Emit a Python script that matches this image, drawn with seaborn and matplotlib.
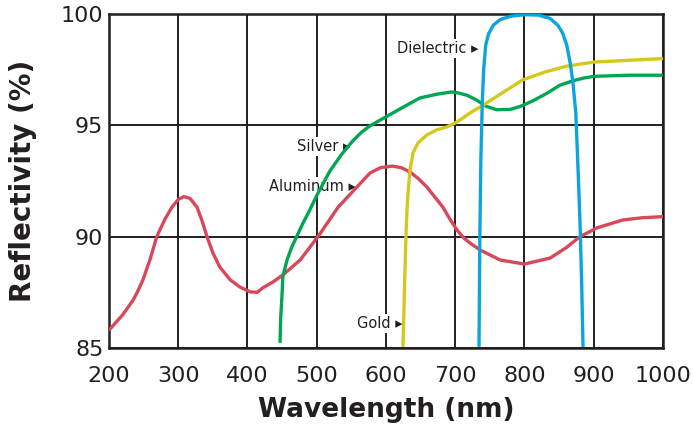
import matplotlib.pyplot as plt
import pandas as pd
import seaborn as sns

# values (wavelength nm, reflectivity %)
aluminum_x = [200, 220, 235, 242, 249, 259, 269, 281, 291, 300, 308, 317, 327, 334,
              341.5, 350, 360, 375, 389, 404, 414, 422, 437, 451, 476, 504, 531, 558,
              577, 592, 609, 622, 635, 647, 659, 670, 682, 692, 702.5, 712, 722, 736,
              765, 800, 837, 860, 880, 905, 942, 970, 1000]
aluminum_y = [85.8, 86.5, 87.16, 87.58, 88.06, 88.95, 90.0, 90.8, 91.33, 91.67, 91.8,
              91.72, 91.33, 90.75, 90.0, 89.27, 88.64, 88.06, 87.74, 87.52, 87.5, 87.7,
              87.97, 88.28, 88.95, 90.1, 91.33, 92.23, 92.86, 93.1, 93.17, 93.1, 92.9,
              92.6, 92.23, 91.8, 91.33, 90.8, 90.3, 89.95, 89.7, 89.4, 88.95, 88.77,
              89.04, 89.5, 90.0, 90.4, 90.75, 90.85, 90.9]

silver_x = [447, 448, 450, 451, 457, 464, 471, 480, 490, 500, 519, 536, 552, 565, 577,
            601, 625, 649, 673.6, 695, 705, 717, 730, 745, 760, 780, 794, 812, 833,
            851, 870, 885, 900, 950, 1000]
silver_y = [85.23, 86.4, 87.47, 88.19, 88.95, 89.54, 90.0, 90.6, 91.2, 91.85, 92.95,
            93.7, 94.3, 94.7, 94.98, 95.4, 95.82, 96.23, 96.4, 96.5, 96.45, 96.35,
            96.15, 95.85, 95.7, 95.72, 95.85, 96.1, 96.45, 96.8, 97.0, 97.12, 97.2,
            97.25, 97.25]

gold_x = [624.5, 626, 627.5, 629, 630.5, 631.8, 634.7, 639, 646, 659, 673.6, 688,
          699.6, 711, 721, 740, 770, 798, 830, 860, 880, 900, 950, 1000]
gold_y = [85.05, 86.8, 88.6, 90.2, 91.3, 91.96, 93.0, 93.76, 94.2, 94.57, 94.8, 94.93,
          95.1, 95.33, 95.55, 95.9, 96.5, 97.05, 97.4, 97.65, 97.75, 97.84, 97.92, 98.0]

dielectric_x = [734.3, 735.5, 737, 739, 741, 744, 748, 755, 765, 780, 800, 820, 837,
                848, 855, 861, 866, 870, 874, 877, 880, 882.5, 884.5]
dielectric_y = [85.05, 90.0, 93.5, 96.0, 97.5, 98.6, 99.1, 99.5, 99.75, 99.9, 99.97,
                99.95, 99.8, 99.5, 99.15, 98.6, 97.8, 96.9, 95.6, 93.3, 90.8, 88.0, 85.05]

x_ticks = [200, 300, 400, 500, 600, 700, 800, 900, 1000]
y_ticks = [85, 90, 95, 100]

colors = {
    "Aluminum": "#d8475a",
    "Silver": "#00a651",
    "Gold": "#d5c81c",
    "Dielectric": "#0ba4de",
}

frames = []
for name, xs, ys in [
    ("Aluminum", aluminum_x, aluminum_y),
    ("Silver", silver_x, silver_y),
    ("Gold", gold_x, gold_y),
    ("Dielectric", dielectric_x, dielectric_y),
]:
    frames.append(pd.DataFrame({"wavelength": xs, "reflectivity": ys, "coating": name}))
data = pd.concat(frames, ignore_index=True)

sns.set_style("white")
plt.rcParams["font.family"] = ["DejaVu Sans"]

fig = plt.figure(figsize=(6.93, 4.38), dpi=100)
ax = fig.add_axes([109 / 693, 1 - 348 / 438, 554 / 693, 334 / 438])

sns.lineplot(
    data=data,
    x="wavelength",
    y="reflectivity",
    hue="coating",
    palette=colors,
    estimator=None,
    sort=False,
    linewidth=2.4,
    legend=False,
    ax=ax,
    zorder=3,
)
for line in ax.lines:
    line.set_solid_joinstyle("round")
    line.set_solid_capstyle("butt")

ax.set_xlim(200, 1000)
ax.set_ylim(85, 100)
ax.set_xticks(x_ticks)
ax.set_yticks(y_ticks)
ax.grid(True, color="#231f20", linewidth=1.4, zorder=0)
ax.set_axisbelow(True)
for s in ax.spines.values():
    s.set_color("#231f20")
    s.set_linewidth(1.8)

ax.tick_params(axis="both", length=0, labelsize=16, labelcolor="#231f20")
ax.tick_params(axis="x", pad=13)
ax.tick_params(axis="y", pad=4)

ax.set_xlabel("Wavelength (nm)", fontsize=19, fontweight="heavy", color="#231f20", labelpad=8)
ax.set_ylabel("Reflectivity (%)", fontsize=20, fontweight="heavy", color="#231f20", labelpad=17)

# in-plot labels with a white box that hides the grid behind them
labels = [
    ("Dielectric \u25b8", 734, 98.45),
    ("Silver \u25b8", 549, 94.05),
    ("Aluminum \u25b8", 557, 92.25),
    ("Gold \u25b8", 624, 86.1),
]
for text, lx, ly in labels:
    ax.text(lx, ly, text, ha="right", va="center", fontsize=10.5, color="#231f20",
            bbox=dict(facecolor="white", edgecolor="none", pad=1.5), zorder=2)

fig.savefig("out.png", dpi=100)
